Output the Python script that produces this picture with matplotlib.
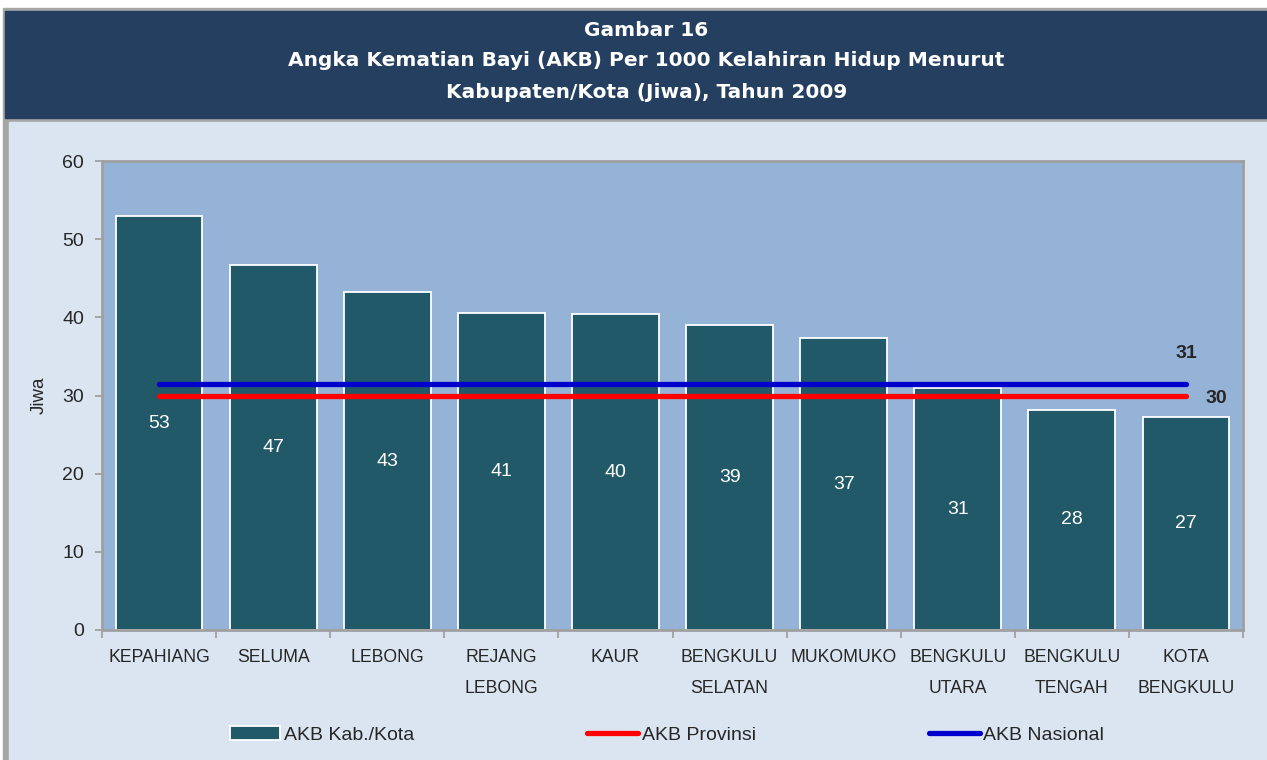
import numpy as np
import matplotlib.pyplot as plt
from matplotlib.patches import Rectangle

# data
kabupaten = ['KEPAHIANG', 'SELUMA', 'LEBONG', 'REJANG\nLEBONG', 'KAUR',
             'BENGKULU\nSELATAN', 'MUKOMUKO', 'BENGKULU\nUTARA',
             'BENGKULU\nTENGAH', 'KOTA\nBENGKULU']
akb_kab = [52.9, 46.7, 43.2, 40.5, 40.4, 39.0, 37.3, 30.9, 28.2, 27.3]
akb_provinsi = 30
akb_nasional = 31.5
label_kab = ['53', '47', '43', '41', '40', '39', '37', '31', '28', '27']

plt.rcParams['font.family'] = ['Liberation Sans', 'DejaVu Sans']

W, H = 1267, 760
fig = plt.figure(figsize=(W / 100, H / 100), dpi=100, facecolor='white')

# frame, title banner and body
def box(x0, y0, x1, y1, color):
    fig.patches.append(Rectangle((x0 / W, 1 - y1 / H), (x1 - x0) / W, (y1 - y0) / H,
                                 transform=fig.transFigure, color=color, zorder=-5))

box(3, 8, W, H, '#A6A6A6')
box(5, 11, W, 118, '#243F60')
box(9, 122, W, H, '#DBE5F1')

title_lines = ['Gambar 16',
               'Angka Kematian Bayi (AKB) Per 1000 Kelahiran Hidup Menurut',
               'Kabupaten/Kota (Jiwa), Tahun 2009']
for txt, ypx in zip(title_lines, [31, 61, 93]):
    fig.text(0.51, 1 - ypx / H, txt, ha='center', va='center', color='white',
             fontsize=14.5, fontweight='bold', family='DejaVu Sans')

ax = fig.add_axes([102 / W, 1 - 630 / H, (1243 - 102) / W, (630 - 161) / H], zorder=2)
ax.set_facecolor('#95B3D7')

x = np.arange(len(kabupaten))
bars = ax.bar(x, akb_kab, width=0.76, color='#215968', edgecolor='white',
              linewidth=1.3, label='AKB Kab./Kota', zorder=2)
for xi, v, lab in zip(x, akb_kab, label_kab):
    ax.text(xi, v / 2, lab, ha='center', va='center', color='white', fontsize=14, zorder=3)

l_prov, = ax.plot([x[0], x[-1]], [akb_provinsi] * 2, color='#FF0000', lw=3.8,
                  solid_capstyle='round', label='AKB Provinsi', zorder=4)
l_nas, = ax.plot([x[0], x[-1]], [akb_nasional] * 2, color='#0000CC', lw=3.8,
                 solid_capstyle='round', label='AKB Nasional', zorder=4)
ax.text(x[-1], 35.4, '31', ha='center', va='center', fontsize=14, fontweight='bold', color='#262626')
ax.text(x[-1] + 0.27, 29.6, '30', ha='center', va='center', fontsize=14, fontweight='bold', color='#262626')

ax.set_xlim(-0.5, len(kabupaten) - 0.5)
ax.set_ylim(0, 60)
ax.set_yticks(np.arange(0, 61, 10))
ax.set_xticks(np.arange(-0.5, len(kabupaten), 1.0))
ax.set_xticklabels([])
ax.set_xticks(x, minor=True)
ax.set_xticklabels(kabupaten, minor=True, fontsize=12.7, color='#262626', linespacing=2.05, va='top')
ax.tick_params(axis='x', which='minor', length=0, pad=14)
ax.tick_params(axis='x', which='major', length=6, color='#A0A0A0', width=1.3)
ax.tick_params(axis='y', length=5, color='#A0A0A0', width=1.3, labelsize=14,
               labelcolor='#262626', pad=8)
for s in ax.spines.values():
    s.set_color('#A0A0A0')
    s.set_linewidth(2)
ax.set_ylabel('Jiwa', fontsize=13.5, color='#262626', labelpad=10)

fig.legend(handles=[bars, l_prov, l_nas], loc='center',
           bbox_to_anchor=(667 / W, 1 - 735 / H), ncol=3, frameon=False,
           fontsize=14, handlelength=2.6, handleheight=0.75, handletextpad=0.2,
           columnspacing=8.9, labelcolor='#262626')

fig.savefig('out.png', dpi=100, facecolor=fig.get_facecolor())
